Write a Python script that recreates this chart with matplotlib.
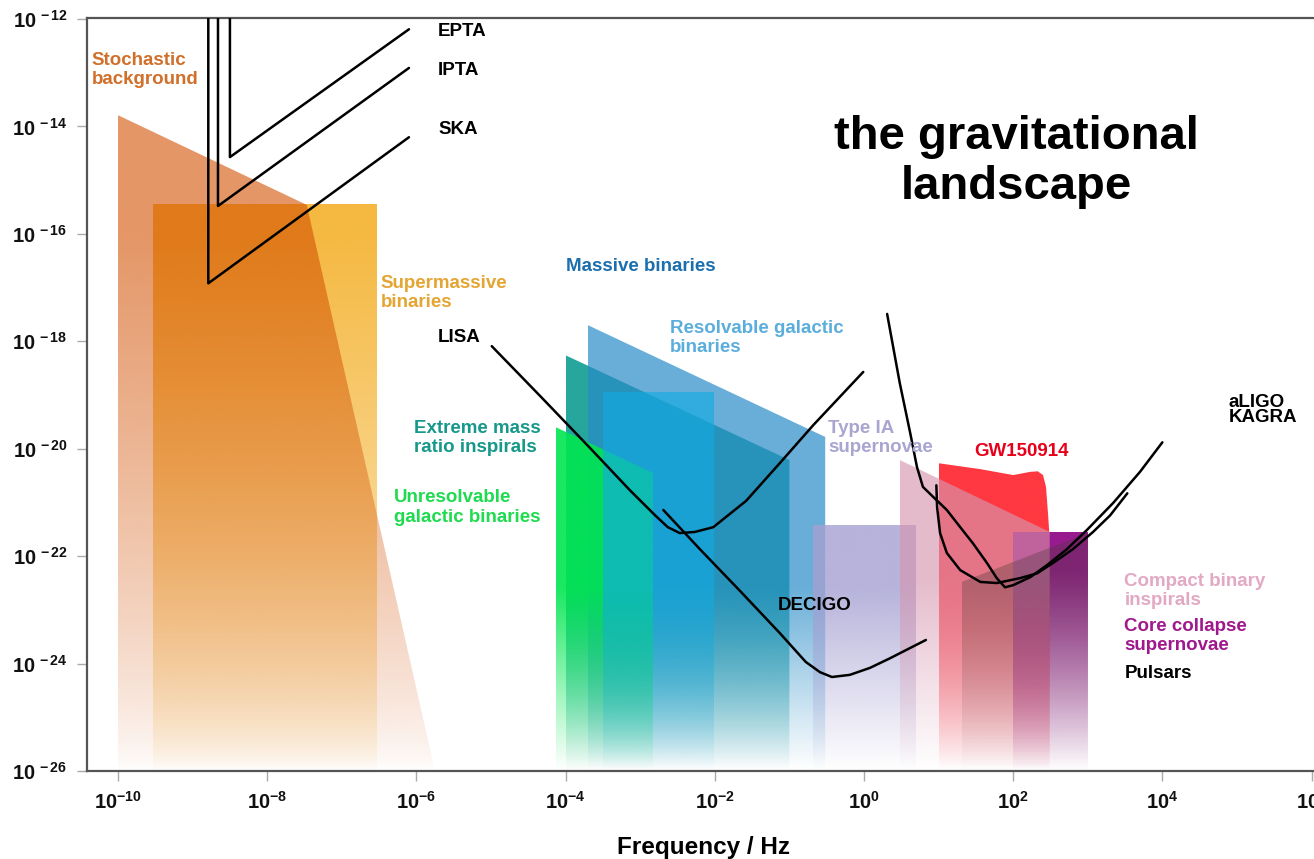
"""Gravitational-wave spectrum: sources and detector sensitivities."""
import numpy as np
import matplotlib
matplotlib.use("Agg")
import matplotlib.pyplot as plt
from matplotlib.patches import Polygon
from matplotlib.colors import to_rgb
from matplotlib.ticker import FixedLocator, FuncFormatter

plt.rcParams["font.family"] = ["Liberation Sans", "DejaVu Sans"]
plt.rcParams["font.weight"] = "bold"
plt.rcParams["mathtext.fontset"] = "custom"
plt.rcParams["mathtext.rm"] = "Liberation Sans:bold"
plt.rcParams["mathtext.it"] = "Liberation Sans:bold"
plt.rcParams["mathtext.bf"] = "Liberation Sans:bold"

# ── source regions: outline vertices, log10(f / Hz) and log10(h) ─────────────
SMBH_F = [-9.53, -6.53, -6.53, -9.53]
SMBH_H = [-15.44, -15.44, -26.0, -26.0]
STOCH_F = [-10.0, -7.47, -5.75, -10.0]
STOCH_H = [-13.79, -15.46, -26.0, -26.0]
EMRI_F = [-4.0, -1.0, -1.0, -4.0]
EMRI_H = [-18.26, -20.21, -26.0, -26.0]
RESOLV_F = [-3.70, -0.52, -0.52, -3.70]
RESOLV_H = [-17.70, -19.78, -26.0, -26.0]
UNRES_F = [-4.13, -2.83, -2.83, -4.13]
UNRES_H = [-19.60, -20.45, -26.0, -26.0]
MASSIVE_F = [-3.50, -2.01, -2.01, -3.50]
MASSIVE_H = [-18.94, -18.94, -26.0, -26.0]
SN1A_F = [-0.68, 0.70, 0.70, -0.68]
SN1A_H = [-21.42, -21.42, -26.0, -26.0]
GW_F = [1.0, 1.56, 2.0, 2.23, 2.33, 2.40, 2.44, 2.47, 2.49, 2.49, 1.0]
GW_H = [-20.27, -20.38, -20.49, -20.43, -20.42, -20.49, -20.71, -21.27,
        -21.70, -26.0, -26.0]
CCSN_F = [2.0, 3.0, 3.0, 2.0]
CCSN_H = [-21.55, -21.55, -26.0, -26.0]
CBC_F = [0.48, 2.49, 2.49, 0.48]
CBC_H = [-20.21, -21.55, -26.0, -26.0]
PULSAR_F = [1.31, 3.0, 3.0, 1.31]
PULSAR_H = [-22.48, -21.57, -26.0, -26.0]

# ── detector sensitivity curves ──────────────────────────────────────────────
EPTA_F = [-8.50, -8.50, -6.10]
EPTA_H = [-11.9, -14.57, -12.19]
IPTA_F = [-8.66, -8.66, -6.10]
IPTA_H = [-11.9, -15.48, -12.91]
SKA_F = [-8.79, -8.79, -6.10]
SKA_H = [-11.9, -16.92, -14.20]
LISA_F = [-4.99, -4.34, -3.67, -3.14, -2.80, -2.63, -2.47, -2.27, -2.02,
          -1.58, -1.13, -0.68, -0.01]
LISA_H = [-18.09, -19.02, -19.99, -20.77, -21.24, -21.46, -21.57, -21.55,
          -21.46, -20.97, -20.27, -19.56, -18.57]
DECIGO_F = [-2.69, -2.20, -1.66, -1.13, -0.78, -0.59, -0.43, -0.19, 0.08,
            0.35, 0.83]
DECIGO_H = [-21.14, -21.87, -22.65, -23.43, -23.97, -24.16, -24.25, -24.21,
            -24.08, -23.90, -23.56]
ALIGO_F = [0.31, 0.48, 0.62, 0.71, 0.79, 0.93, 1.11, 1.29, 1.46, 1.65, 1.78,
           1.89, 2.00, 2.23, 2.45, 2.72, 2.99, 3.34, 3.70, 4.00]
ALIGO_H = [-17.49, -18.78, -19.71, -20.34, -20.71, -20.90, -21.14, -21.46,
           -21.76, -22.13, -22.41, -22.58, -22.54, -22.39, -22.17, -21.87,
           -21.51, -21.01, -20.43, -19.88]
KAGRA_F = [0.97, 0.98, 1.02, 1.11, 1.29, 1.56, 1.78, 2.09, 2.32, 2.53, 2.80,
           3.07, 3.30, 3.53]
KAGRA_H = [-20.68, -21.09, -21.57, -21.94, -22.26, -22.48, -22.50, -22.41,
           -22.32, -22.13, -21.87, -21.55, -21.24, -20.83]

# (x, y, colour, alpha, fade start, fade exponent)
REGIONS = [
    (SMBH_F, SMBH_H, "#F4B12C", 0.90, -16.0, 0.7),
    (STOCH_F, STOCH_H, "#D25000", 0.60, -16.0, 0.7),
    (EMRI_F, EMRI_H, "#00968C", 0.85, -22.6, 1.0),
    (RESOLV_F, RESOLV_H, "#288CC8", 0.70, -22.6, 1.0),
    (UNRES_F, UNRES_H, "#00E650", 0.90, -22.6, 1.0),
    (MASSIVE_F, MASSIVE_H, "#14AAE1", 0.65, -22.6, 1.0),
    (SN1A_F, SN1A_H, "#A5A0D2", 0.80, -22.6, 1.0),
    (GW_F, GW_H, "#FF141E", 0.85, -22.4, 1.0),
    (CCSN_F, CCSN_H, "#8C0082", 0.90, -22.3, 1.0),
    (CBC_F, CBC_H, "#D796AF", 0.65, -22.4, 1.0),
    (PULSAR_F, PULSAR_H, "#503C3C", 0.35, -22.4, 1.0),
]

CURVES = [EPTA_F, EPTA_H, IPTA_F, IPTA_H, SKA_F, SKA_H, LISA_F, LISA_H,
          DECIGO_F, DECIGO_H, ALIGO_F, ALIGO_H, KAGRA_F, KAGRA_H]

# (text, x, y, colour, linespacing)
LABELS = [
    ("Stochastic\nbackground", -10.35, -12.95, "#D0702A", 1.2),
    ("EPTA", -5.71, -12.24, "black", 1.2),
    ("IPTA", -5.71, -12.95, "black", 1.2),
    ("SKA", -5.71, -14.05, "black", 1.2),
    ("Supermassive\nbinaries", -6.48, -17.10, "#E4A533", 1.2),
    ("LISA", -5.71, -17.92, "black", 1.2),
    ("Massive binaries", -4.0, -16.60, "#1B6FAE", 1.2),
    ("Resolvable galactic\nbinaries", -2.60, -17.94, "#5BAEDC", 1.2),
    ("Extreme mass\nratio inspirals", -6.03, -19.80, "#16988A", 1.2),
    ("Unresolvable\ngalactic binaries", -6.30, -21.09, "#1EDB4F", 1.2),
    ("Type IA\nsupernovae", -0.48, -19.80, "#A9A5D1", 1.2),
    ("GW150914", 1.48, -20.06, "#E8001A", 1.2),
    ("aLIGO\nKAGRA", 4.89, -19.28, "black", 0.8),
    ("DECIGO", -1.15, -22.91, "black", 1.2),
    ("Compact binary\ninspirals", 3.49, -22.65, "#E2A9C3", 1.2),
    ("Core collapse\nsupernovae", 3.49, -23.49, "#A0188E", 1.2),
    ("Pulsars", 3.49, -24.18, "black", 1.2),
]

YMIN, YMAX = -26.0, -11.98
XMIN, XMAX = -10.416, 6.247


def shaded_region(ax, xs, ys, color, alpha, fade_top, gamma, z):
    """Polygon filled with a colour that fades to white toward the bottom."""
    poly = Polygon(np.column_stack([xs, ys]), closed=True,
                   facecolor="none", edgecolor="none")
    ax.add_patch(poly)
    top = max(ys)
    yy = np.linspace(YMIN, top, 400)
    a = np.clip((yy - YMIN) / (fade_top - YMIN), 0, 1) ** gamma * alpha
    img = np.zeros((len(yy), 2, 4))
    img[..., :3] = to_rgb(color)
    img[..., 3] = a[:, None]
    im = ax.imshow(img, extent=(min(xs), max(xs), YMIN, top), origin="lower",
                   aspect="auto", interpolation="bilinear", zorder=z)
    im.set_clip_path(poly)


fig = plt.figure(figsize=(13.14, 8.59), dpi=100)
ax = fig.add_axes([87 / 1314, 88 / 859, 1243 / 1314, 753 / 859])

for i, (xs, ys, col, a, ft, g) in enumerate(REGIONS):
    shaded_region(ax, xs, ys, col, a, ft, g, 1 + i * 0.1)

for xs, ys in zip(CURVES[0::2], CURVES[1::2]):
    ax.plot(xs, ys, color="black", lw=1.8, solid_joinstyle="round",
            solid_capstyle="round", zorder=5)

for text, x, y, col, ls in LABELS:
    ax.text(x, y, text, color=col, fontsize=13.5, fontweight="bold",
            ha="left", va="center", linespacing=ls, zorder=6)

ax.text(2.04, -14.66, "the gravitational\nlandscape", ha="center",
        va="center", fontsize=34, fontweight="bold", linespacing=1.17,
        zorder=6)

ax.set_xlim(XMIN, XMAX)
ax.set_ylim(YMIN, YMAX)
ax.xaxis.set_major_locator(FixedLocator(range(-10, 7, 2)))
ax.yaxis.set_major_locator(FixedLocator(range(-26, -11, 2)))
ax.xaxis.set_major_formatter(FuncFormatter(lambda v, p: r"$10^{%d}$" % v))
ax.yaxis.set_major_formatter(FuncFormatter(lambda v, p: r"$10^{\,%d}$" % v))
ax.tick_params(axis="both", direction="out", length=7, width=1,
               color="#aaaaaa", labelsize=14.5, labelcolor="#111111", pad=7)

for s in ax.spines.values():
    s.set_color("#555555")
    s.set_linewidth(1.6)

ax.set_xlabel("Frequency / Hz", fontsize=17.5, fontweight="bold")
ax.xaxis.set_label_coords(0.4956, -0.102)
ax.xaxis.label.set_va("center")

fig.savefig("out.png", dpi=100)
